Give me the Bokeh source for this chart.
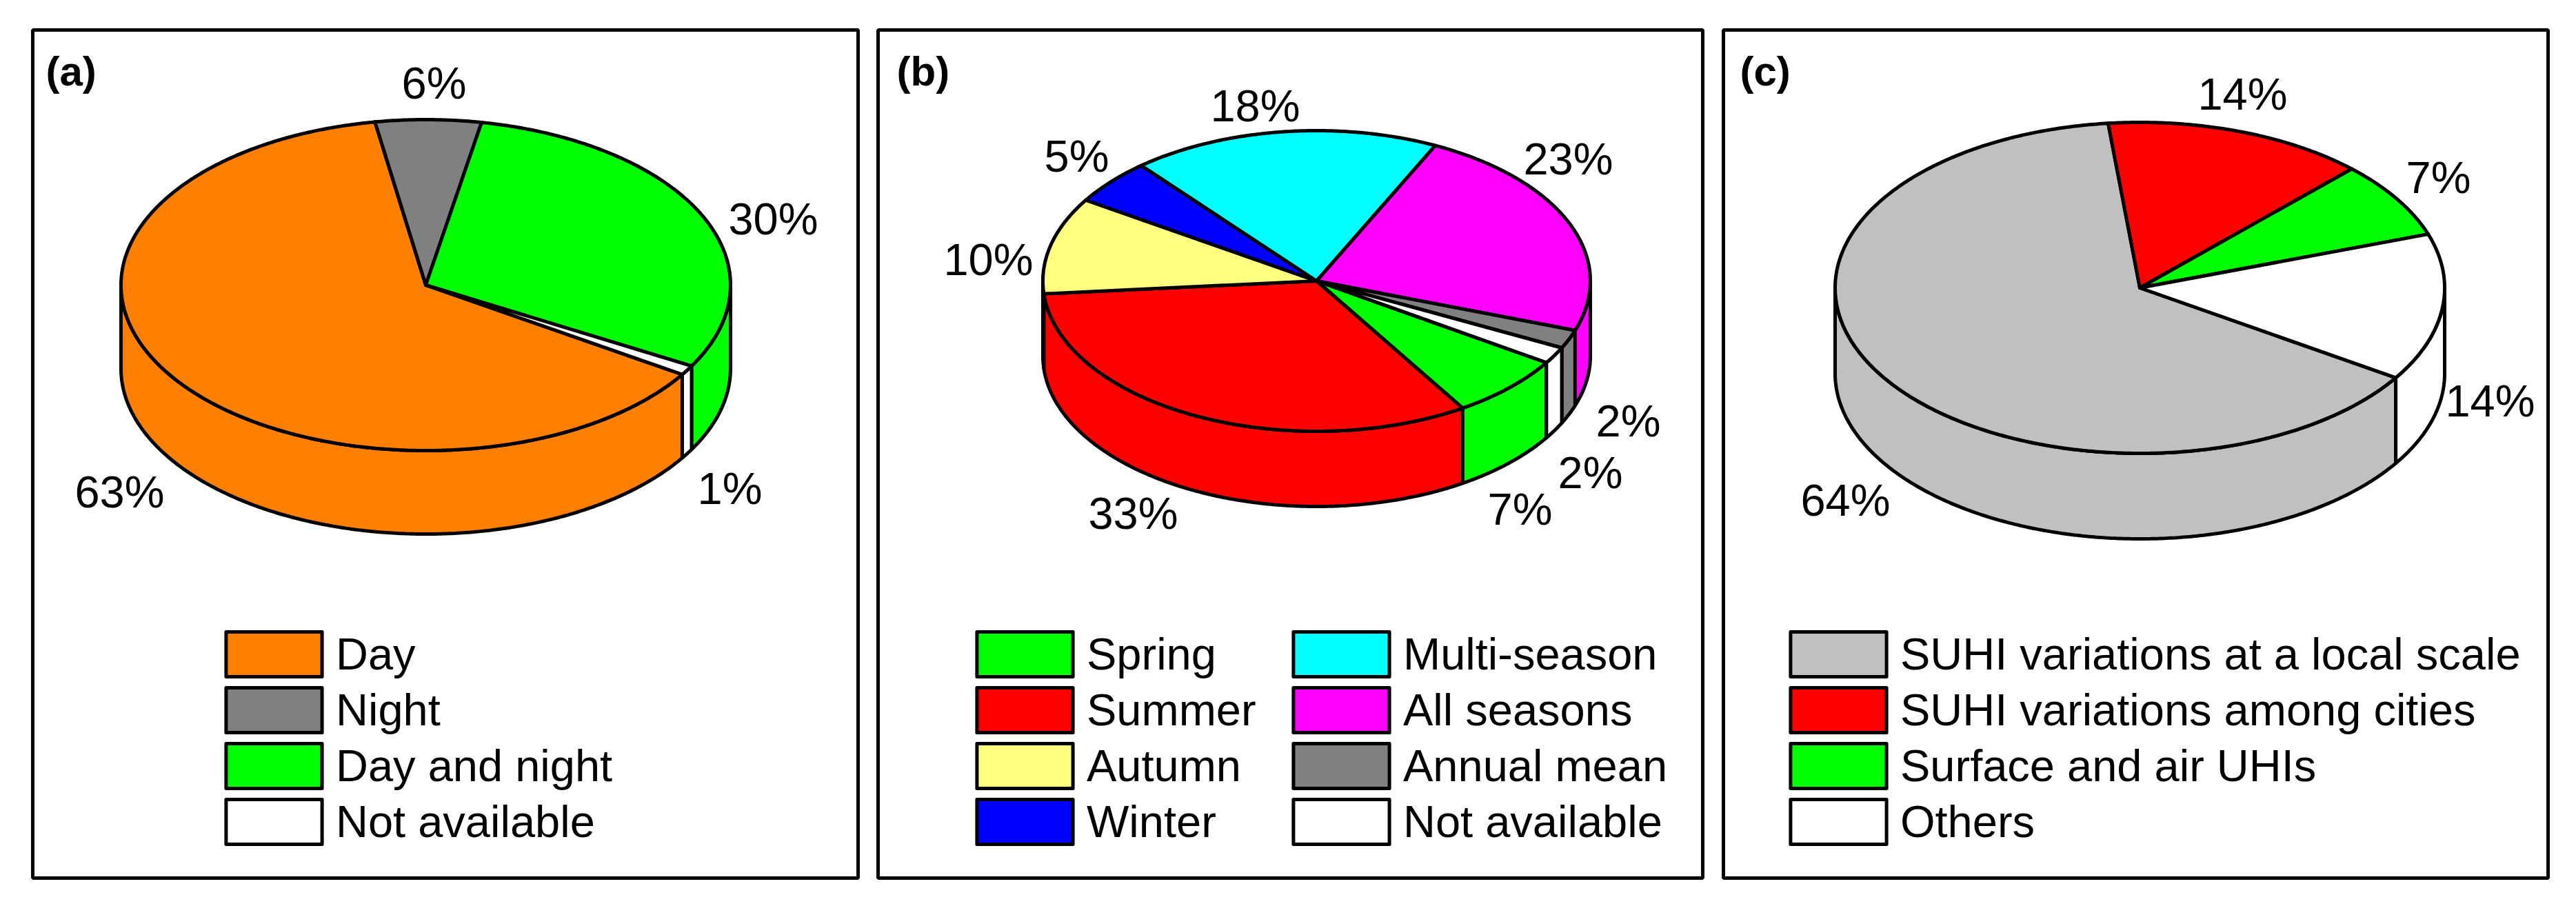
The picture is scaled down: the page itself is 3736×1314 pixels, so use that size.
import numpy as np
from bokeh.core.properties import value
from bokeh.embed import file_html
from bokeh.layouts import row
from bokeh.models import Legend, LegendItem
from bokeh.plotting import figure
from bokeh.resources import INLINE

# panel (a)
a_names = ["Day", "Night", "Day and night", "Not available"]
a_values = [63.25, 5.6, 30.2, 0.95]
a_labels = ["63%", "6%", "30%", "1%"]
a_colors = ["#FF8000", "#808080", "#00FF00", "#FFFFFF"]

# panel (b)
b_names = ["Spring", "Summer", "Autumn", "Winter", "Multi-season", "All seasons", "Annual mean", "Not available"]
b_values = [6.9, 32.6, 10.4, 4.9, 18.2, 23.2, 2.0, 1.8]
b_labels = ["7%", "33%", "10%", "5%", "18%", "23%", "2%", "2%"]
b_colors = ["#00FF00", "#FF0000", "#FFFF80", "#0000FF", "#00FFFF", "#FF00FF", "#808080", "#FFFFFF"]

# panel (c)
c_names = ["SUHI variations at a local scale", "SUHI variations among cities", "Surface and air UHIs", "Others"]
c_values = [64.2, 13.9, 7.5, 14.4]
c_labels = ["64%", "14%", "7%", "14%"]
c_colors = ["#C0C0C0", "#FF0000", "#00FF00", "#FFFFFF"]

# label anchors, in frame pixels
a_label_x = [126, 582, 1074, 1011]
a_label_y = [670, 77, 274, 665]
b_label_x = [931, 370, 160, 288, 547, 1001, 1088, 1033]
b_label_y = [695, 701, 333, 183, 110, 187, 567, 642]
c_label_x = [177, 753, 1037, 1112]
c_label_y = [682, 93, 214, 538]

FONT = "Liberation Sans"
FONT_SIZE = "65px"
TAG_SIZE = "60px"
LINE = 5
FRAME_H = 1230


def arc(cx, cy, rx, ry, a0, a1):
    t = np.radians(np.arange(a0, a1, 0.5).tolist() + [a1])
    return cx + rx * np.sin(t), cy - ry * np.cos(t)


def make_panel(tag, left, frame_w, right, cx, cy, rx, ry, depth, start, values, colors, labels, label_x, label_y, tag_x):
    p = figure(width=left + frame_w + right, height=1314, x_range=(0, frame_w), y_range=(FRAME_H, 0),
               output_backend="svg", toolbar_location=None,
               min_border_left=left, min_border_right=right, min_border_top=43, min_border_bottom=41)
    p.axis.visible = False
    p.grid.visible = False
    p.outline_line_color = "black"
    p.outline_line_width = LINE

    edges = start + np.cumsum([0] + list(values)) * 3.6

    # outer wall, only the part that faces the viewer
    for i, color in enumerate(colors):
        for lo, hi in [(90, 270), (450, 630)]:
            a0, a1 = max(edges[i], lo), min(edges[i + 1], hi)
            if a1 <= a0:
                continue
            x, y = arc(cx, cy, rx, ry, a0, a1)
            p.patch(np.r_[x, x[::-1]], np.r_[y, y[::-1] + depth], fill_color=color,
                    line_color="black", line_width=LINE)

    # top of the pie
    tops = []
    for i, color in enumerate(colors):
        x, y = arc(cx, cy, rx, ry, edges[i], edges[i + 1])
        r = p.patch(np.r_[cx, x], np.r_[cy, y], fill_color=color,
                    line_color="black", line_width=LINE, line_join="round")
        tops.append(r)

    p.text(label_x, label_y, text=labels, text_font=value(FONT), text_font_size=value(FONT_SIZE),
           text_align="center", text_baseline="middle", text_color="black")
    p.text([tag_x], [60], text=[tag], text_font=value(FONT), text_font_size=value(TAG_SIZE), text_font_style="bold",
           text_align="left", text_baseline="middle", text_color="black")
    return p, tops


def add_legend(p, names, renderers, x):
    items = [LegendItem(label=n, renderers=[r]) for n, r in zip(names, renderers)]
    leg = Legend(items=items, location=(x, 41), orientation="vertical", margin=0, padding=0,
                 spacing=0, glyph_width=174, glyph_height=81, label_standoff=3,
                 label_text_font=FONT, label_text_font_size=FONT_SIZE, label_text_color="black",
                 background_fill_alpha=0, border_line_color=None)
    p.add_layout(leg)


pa, tops_a = make_panel("(a)", 47, 1197, 14, 570, 370, 442, 240, 121, 122.7,
                        a_values, a_colors, a_labels, a_label_x, a_label_y, 19)
add_legend(pa, a_names, tops_a, 263)

pb, tops_b = make_panel("(b)", 15, 1196, 17, 636, 364, 397, 218, 109, 122.9,
                        b_values, b_colors, b_labels, b_label_x, b_label_y, 27)
add_legend(pb, b_names[:4], tops_b[:4], 126)
add_legend(pb, b_names[4:], tops_b[4:], 585)

pc, tops_c = make_panel("(c)", 13, 1196, 41, 604, 374, 442, 240, 124, 122.9,
                        c_values, c_colors, c_labels, c_label_x, c_label_y, 24)
add_legend(pc, c_names, tops_c, 80)

page = row(pa, pb, pc, spacing=0)
open("out.html", "w").write(file_html(page, INLINE))
